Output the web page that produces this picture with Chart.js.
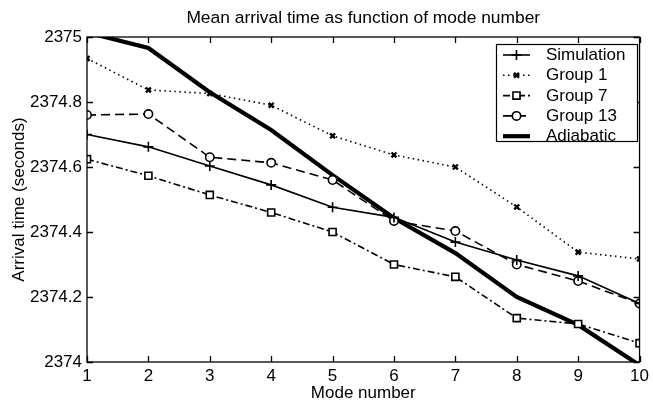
<!DOCTYPE html>
<html>
<head>
<meta charset="utf-8">
<script src="https://cdn.jsdelivr.net/npm/chart.js@4/dist/chart.umd.min.js"></script>
<style>
  html, body { margin: 0; padding: 0; background: #fff; }
  #wrap { width: 653px; height: 404px; }
</style>
</head>
<body>
<div id="wrap"><canvas id="arrivalChart"></canvas></div>
<script>
const modes = [1, 2, 3, 4, 5, 6, 7, 8, 9, 10];
const simulation = [2374.700, 2374.662, 2374.603, 2374.545, 2374.476, 2374.445, 2374.369, 2374.314, 2374.265, 2374.180];
const group1 = [2374.934, 2374.837, 2374.826, 2374.790, 2374.696, 2374.637, 2374.600, 2374.477, 2374.338, 2374.317];
const group7 = [2374.624, 2374.573, 2374.514, 2374.460, 2374.400, 2374.300, 2374.262, 2374.135, 2374.117, 2374.058];
const group13 = [2374.760, 2374.763, 2374.630, 2374.613, 2374.560, 2374.434, 2374.403, 2374.300, 2374.249, 2374.180];
const adiabatic = [2375.014, 2374.966, 2374.830, 2374.714, 2374.575, 2374.443, 2374.335, 2374.200, 2374.114, 2373.990];
const yTicks = [2374, 2374.2, 2374.4, 2374.6, 2374.8, 2375];
const chartTitle = "Mean arrival time as function of mode number";

const FONT = "'Liberation Sans', Arial, Helvetica, sans-serif";

function points(values) {
  return modes.map((m, i) => ({ x: m, y: values[i] }));
}

function series(label, values, style) {
  return Object.assign({
    label: label,
    data: points(values),
    borderColor: "#000",
    backgroundColor: "#fff",
    pointBorderColor: "#000",
    pointBackgroundColor: "#fff",
    borderWidth: 1.6,
    pointBorderWidth: 1.6,
    tension: 0,
    fill: false,
  }, style);
}

// matlab-like frame: full box with inward ticks on all four sides,
// title centred over the plot area rather than the whole canvas
const frame = {
  id: "frame",
  afterDatasetsDraw(chart) {
    const { ctx, chartArea: a, scales } = chart;
    const len = 6;
    ctx.save();
    ctx.strokeStyle = "#000";
    ctx.lineWidth = 1.3;
    ctx.strokeRect(a.left, a.top, a.right - a.left, a.bottom - a.top);
    ctx.beginPath();
    scales.x.ticks.forEach((t) => {
      const px = Math.round(scales.x.getPixelForValue(t.value)) + 0.5;
      ctx.moveTo(px, a.bottom); ctx.lineTo(px, a.bottom - len);
      ctx.moveTo(px, a.top); ctx.lineTo(px, a.top + len);
    });
    scales.y.ticks.forEach((t) => {
      const py = Math.round(scales.y.getPixelForValue(t.value)) + 0.5;
      ctx.moveTo(a.left, py); ctx.lineTo(a.left + len, py);
      ctx.moveTo(a.right, py); ctx.lineTo(a.right - len, py);
    });
    ctx.stroke();
    ctx.fillStyle = "#000";
    ctx.font = "17.4px " + FONT;
    ctx.textAlign = "center";
    ctx.textBaseline = "middle";
    ctx.fillText(chartTitle, (a.left + a.right) / 2, 18);
    ctx.restore();
  },
};

// boxed legend in the upper right, line sample with the marker in its middle
const boxLegend = {
  id: "boxLegend",
  afterDraw(chart) {
    const { ctx } = chart;
    const box = { x: 496, y: 44, w: 141, h: 97 };
    const rowH = 20.3;
    ctx.save();
    ctx.fillStyle = "#fff";
    ctx.fillRect(box.x, box.y, box.w, box.h);
    ctx.strokeStyle = "#000";
    ctx.lineWidth = 1.2;
    ctx.strokeRect(box.x + 0.5, box.y + 0.5, box.w, box.h);
    chart.data.datasets.forEach((ds, i) => {
      const y = box.y + 11 + i * rowH;
      const x0 = box.x + 7, x1 = box.x + 34;
      ctx.save();
      ctx.strokeStyle = "#000";
      ctx.lineWidth = ds.borderWidth;
      ctx.setLineDash(ds.borderDash || []);
      ctx.beginPath();
      ctx.moveTo(x0, y);
      ctx.lineTo(x1, y);
      ctx.stroke();
      ctx.restore();
      if (ds.pointRadius !== 0) {
        ctx.save();
        ctx.strokeStyle = "#000";
        ctx.fillStyle = "#fff";
        ctx.lineWidth = ds.pointBorderWidth;
        Chart.helpers.drawPoint(ctx, {
          pointStyle: ds.pointStyle,
          radius: ds.pointRadius,
          borderWidth: ds.pointBorderWidth,
          rotation: 0,
        }, (x0 + x1) / 2, y);
        ctx.restore();
      }
      ctx.fillStyle = "#000";
      ctx.font = "17px " + FONT;
      ctx.textBaseline = "middle";
      ctx.textAlign = "left";
      ctx.fillText(ds.label, box.x + 50, y + 0.5);
    });
    ctx.restore();
  },
};

new Chart(document.getElementById("arrivalChart"), {
  type: "line",
  data: {
    datasets: [
      series("Simulation", simulation, { pointStyle: "cross", pointRadius: 5 }),
      series("Group 1", group1, { pointStyle: "crossRot", pointRadius: 3.5, pointBorderWidth: 2.4, borderDash: [1.5, 3.5] }),
      series("Group 7", group7, { pointStyle: "rect", pointRadius: 5, borderDash: [7, 3, 2, 3] }),
      series("Group 13", group13, { pointStyle: "circle", pointRadius: 4.2, borderDash: [9, 5] }),
      series("Adiabatic", adiabatic, { pointRadius: 0, borderWidth: 4.2 }),
    ],
  },
  options: {
    responsive: true,
    maintainAspectRatio: false,
    animation: false,
    layout: { padding: { left: 0, right: 10, top: 37, bottom: 0 } },
    plugins: {
      legend: { display: false },
      tooltip: { enabled: false },
      title: { display: false },
    },
    scales: {
      x: {
        type: "linear",
        min: 1,
        max: 10,
        afterFit: (s) => { s.height = 42; },
        ticks: { stepSize: 1, color: "#000", padding: 4, font: { family: FONT, size: 17 } },
        grid: { display: false, drawTicks: false },
        border: { display: false },
        title: {
          display: true,
          text: "Mode number",
          color: "#000",
          font: { family: FONT, size: 17 },
          padding: { top: 0, bottom: 0 },
        },
      },
      y: {
        min: 2374,
        max: 2375,
        afterFit: (s) => { s.width = 87; },
        afterBuildTicks: (s) => { s.ticks = yTicks.map((v) => ({ value: v })); },
        ticks: {
          color: "#000",
          padding: 5,
          font: { family: FONT, size: 17 },
          callback: (v) => String(Math.round(v * 10) / 10),
        },
        grid: { display: false, drawTicks: false },
        border: { display: false },
        title: {
          display: true,
          text: "Arrival time (seconds)",
          color: "#000",
          font: { family: FONT, size: 17 },
          padding: { top: 9, bottom: 0 },
        },
      },
    },
  },
  plugins: [frame, boxLegend],
});
</script>
</body>
</html>
